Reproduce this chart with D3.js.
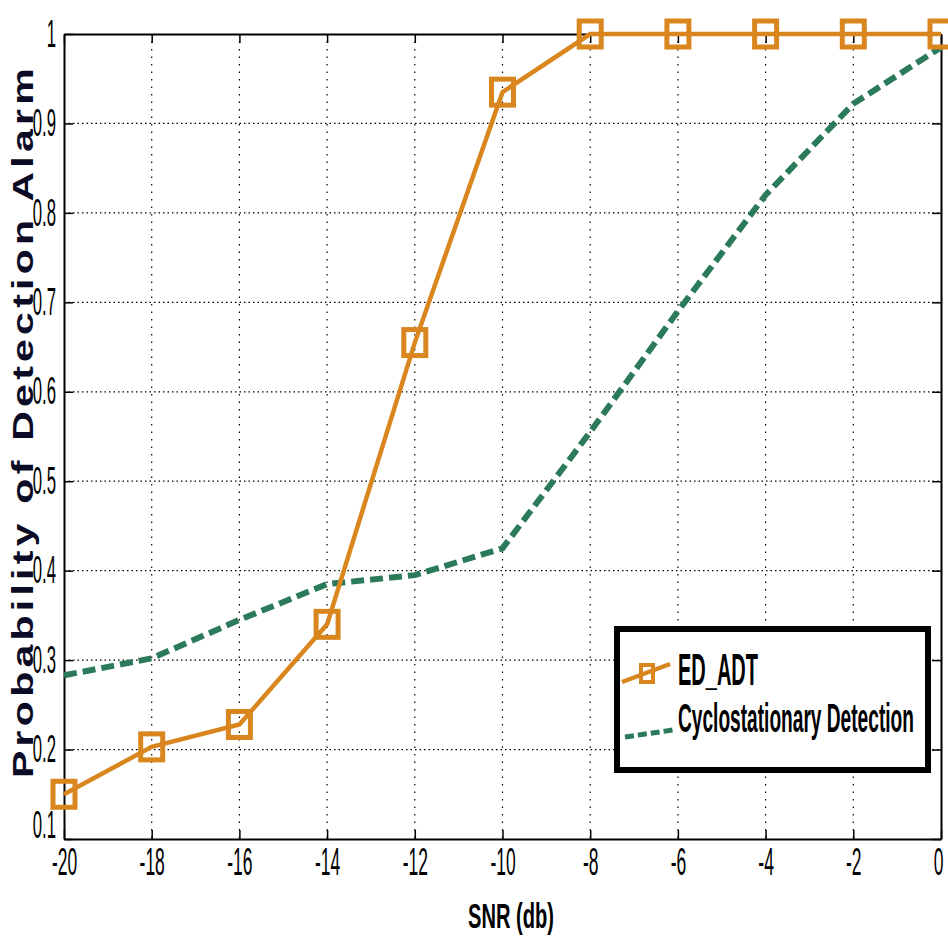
<!DOCTYPE html>
<html>
<head>
<meta charset="utf-8">
<script src="https://cdn.jsdelivr.net/npm/d3@7"></script>
<style>
  body { margin: 0; background: #fff; }
  text { font-family: "Liberation Sans", Arial, sans-serif; }
</style>
</head>
<body>
<div id="chart"></div>
<script>
// values
const snr = [-20, -18, -16, -14, -12, -10, -8, -6, -4, -2, 0];
const edAdt = [0.15, 0.203, 0.228, 0.34, 0.655, 0.935, 1, 1, 1, 1, 1];
const cyclo = [0.283, 0.302, 0.345, 0.385, 0.395, 0.425, 0.555, 0.69, 0.82, 0.922, 0.985];
const xTicks = [-20, -18, -16, -14, -12, -10, -8, -6, -4, -2, 0];
const yTicks = [0.1, 0.2, 0.3, 0.4, 0.5, 0.6, 0.7, 0.8, 0.9, 1];

const W = 948, H = 939;
const margin = { top: 34, right: 7, bottom: 100, left: 64 };
const width = W - margin.left - margin.right;
const height = H - margin.top - margin.bottom;

const orange = "#d9861f";
const green = "#2b7a5a";

// the reference uses a condensed face: scale tick glyphs horizontally
function squeeze(sel, k) {
    sel.each(function () {
        const t = d3.select(this);
        const x0 = +t.attr("x") || 0;
        t.attr("x", x0 / k).attr("transform", `scale(${k},1)`);
    });
}

// place a text by translate + horizontal scale so it ends up a given width
function narrowText(parent, str, px, py, size, targetW, anchor) {
    const wrap = parent.append("g");
    const t = wrap.append("text")
        .style("font-size", size + "px").style("font-weight", "bold")
        .attr("text-anchor", anchor || "start")
        .text(str);
    const k = targetW / t.node().getComputedTextLength();
    wrap.attr("transform", `translate(${px},${py}) scale(${k},1)`);
    return t;
}

const svg = d3.select("#chart").append("svg")
    .attr("width", W).attr("height", H);
const g = svg.append("g")
    .attr("transform", `translate(${margin.left},${margin.top})`);

const x = d3.scaleLinear().domain([-20, 0]).range([0, width]);
const y = d3.scaleLinear().domain([0.1, 1]).range([height, 0]);

// grid
g.append("g").selectAll("line").data(xTicks.slice(1, -1)).join("line")
    .attr("x1", d => x(d)).attr("x2", d => x(d))
    .attr("y1", 0).attr("y2", height)
    .attr("stroke", "#000").attr("stroke-width", 1.2)
    .attr("stroke-dasharray", "1.5,6");
g.append("g").selectAll("line").data(yTicks.slice(1, -1)).join("line")
    .attr("y1", d => y(d)).attr("y2", d => y(d))
    .attr("x1", 0).attr("x2", width)
    .attr("stroke", "#000").attr("stroke-width", 1.2)
    .attr("stroke-dasharray", "1.5,3");

// axes with inward ticks
const xAxis = g.append("g").attr("transform", `translate(0,${height})`)
    .call(d3.axisBottom(x).tickValues(xTicks).tickSizeInner(-9).tickSizeOuter(0).tickPadding(9)
        .tickFormat(d => String(d)));
const yAxis = g.append("g")
    .call(d3.axisLeft(y).tickValues(yTicks).tickSizeInner(-9).tickSizeOuter(0).tickPadding(8)
        .tickFormat(d => d === 1 ? "1" : d3.format(".1f")(d)));
g.append("g")
    .call(d3.axisTop(x).tickValues(xTicks).tickSizeInner(-9).tickSizeOuter(0).tickFormat(""));
g.append("g").attr("transform", `translate(${width},0)`)
    .call(d3.axisRight(y).tickValues(yTicks).tickSizeInner(-9).tickSizeOuter(0).tickFormat(""));

g.selectAll(".domain").attr("stroke", "#000").attr("stroke-width", 2);
g.selectAll(".tick line").attr("stroke", "#000").attr("stroke-width", 1.5);
[xAxis, yAxis].forEach(a => a.selectAll("text")
    .style("font-family", "'Liberation Sans', Arial, sans-serif")
    .style("font-size", "38px").attr("fill", "#000"));
// like the reference, lift the bottom y label clear of the x labels
yAxis.selectAll("text").filter(d => d === 0.1).attr("y", -14);
xAxis.selectAll("text").filter(d => d === 0).attr("x", -3);
squeeze(xAxis.selectAll("text"), 0.46);
squeeze(yAxis.selectAll("text"), 0.44);

// cyclostationary line
const line = d3.line().x((d, i) => x(snr[i])).y(d => y(d));
g.append("path").datum(cyclo)
    .attr("d", line)
    .attr("fill", "none").attr("stroke", green)
    .attr("stroke-width", 6).attr("stroke-dasharray", "13,6");

// ED_ADT line with squares
g.append("path").datum(edAdt)
    .attr("d", line)
    .attr("fill", "none").attr("stroke", orange)
    .attr("stroke-width", 4.5);
g.append("g").selectAll("rect").data(edAdt).join("rect")
    .attr("x", (d, i) => x(snr[i]) - 11)
    .attr("y", d => y(d) - 13)
    .attr("width", 22).attr("height", 26)
    .attr("fill", "none").attr("stroke", orange).attr("stroke-width", 5);

// legend
const lg = svg.append("g").attr("transform", "translate(617,629)");
lg.append("rect").attr("width", 311).attr("height", 141)
    .attr("fill", "#fff").attr("stroke", "#000").attr("stroke-width", 6);
lg.append("line").attr("x1", 5).attr("x2", 53).attr("y1", 53).attr("y2", 35)
    .attr("stroke", orange).attr("stroke-width", 4.5);
lg.append("rect").attr("x", 24).attr("y", 36).attr("width", 12).attr("height", 17)
    .attr("fill", "none").attr("stroke", orange).attr("stroke-width", 4);
lg.append("line").attr("x1", 8).attr("x2", 56).attr("y1", 108).attr("y2", 101)
    .attr("stroke", green).attr("stroke-width", 5).attr("stroke-dasharray", "9,4");
narrowText(lg, "ED_ADT", 61, 56, 44, 80);
narrowText(lg, "Cyclostationary Detection", 61, 103, 40, 236);

// axis titles
narrowText(svg, "SNR (db)", 511, 928, 35, 86, "middle");
svg.append("text")
    .attr("transform", "translate(33,421) rotate(-90)")
    .attr("text-anchor", "middle")
    .style("font-size", "29px").style("font-weight", "bold")
    .style("letter-spacing", "3px")
    .attr("fill", "#0b0b26")
    .attr("textLength", 714).attr("lengthAdjust", "spacingAndGlyphs")
    .text("Probability of Detection Alarm");
</script>
</body>
</html>
